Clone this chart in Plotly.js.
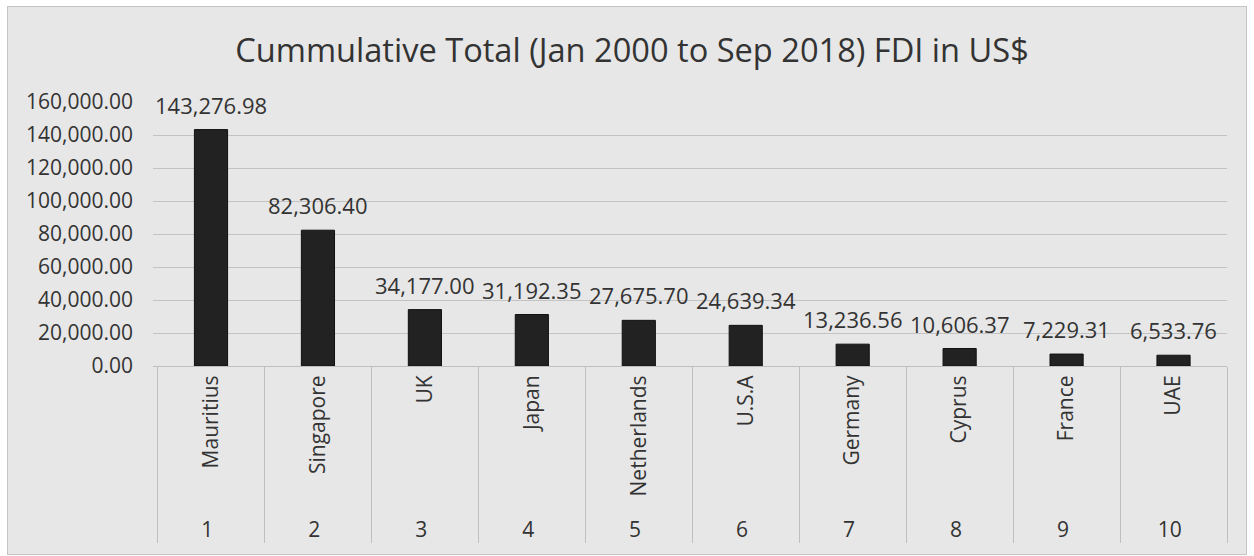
<!DOCTYPE html>
<html>
<head>
<meta charset="utf-8">
<script src="https://cdn.plot.ly/plotly-3.0.1.min.js"></script>
<style>
  html, body { margin: 0; padding: 0; background: #ffffff; }
  #chart { position: absolute; left: 7px; top: 6px; width: 1238px; height: 547px; border: 1px solid #c4c4c4; }
</style>
</head>
<body>
<div id="chart"></div>
<script>
const ranks = ["1", "2", "3", "4", "5", "6", "7", "8", "9", "10"];
const countries = ["Mauritius", "Singapore", "UK", "Japan", "Netherlands", "U.S.A", "Germany", "Cyprus", "France", "UAE"];
const fdi = [143276.98, 82306.40, 34177.00, 31192.35, 27675.70, 24639.34, 13236.56, 10606.37, 7229.31, 6533.76];
const yTicks = [0, 20000, 40000, 60000, 80000, 100000, 120000, 140000, 160000];
const chartTitle = "Cummulative Total (Jan 2000 to Sep 2018) FDI in US$";

const FONT = "'Open Sans', 'Noto Sans', sans-serif";
const TXT = "#333333";

const fmt = v => v.toLocaleString("en-US", {minimumFractionDigits: 2, maximumFractionDigits: 2});

const trace = {
  type: "bar",
  x: [ranks, countries],
  y: fdi,
  marker: { color: "#222222", line: { color: "#111111", width: 1 } },
  hoverinfo: "skip",
  showlegend: false
};

const annotations = fdi.map((v, i) => ({
  x: i, y: v, xref: "x", yref: "y",
  text: fmt(v),
  showarrow: false,
  yanchor: "bottom",
  yshift: 8,
  font: { family: FONT, size: 22, color: TXT }
}));

const layout = {
  width: 1238, height: 547,
  margin: { l: 145, r: 19, t: 95, b: 188, autoexpand: false },
  paper_bgcolor: "#e7e7e7",
  plot_bgcolor: "#e7e7e7",
  bargap: 0.69,
  title: {
    text: chartTitle,
    font: { family: FONT, size: 32.6, color: TXT },
    x: 0.5 + 5 / 1238, xanchor: "center",
    y: 1 - (44 / 547), yanchor: "middle"
  },
  font: { family: FONT, color: TXT },
  xaxis: {
    type: "multicategory",
    automargin: false,
    tickangle: -90,
    tickfont: { family: FONT, size: 21, color: TXT },
    showline: true, linecolor: "#bfbfbf", linewidth: 1,
    showdividers: true, dividercolor: "#bfbfbf", dividerwidth: 1,
    ticks: "", showgrid: false, zeroline: false
  },
  yaxis: {
    automargin: false,
    range: [0, 160000],
    tickvals: yTicks,
    tickformat: ",.2f",
    tickfont: { family: FONT, size: 21, color: TXT },
    showgrid: true, gridcolor: "#c3c3c3", gridwidth: 1,
    zeroline: false, showline: false, ticks: "",
    ticklabelstandoff: 19
  },
  annotations: annotations
};

Plotly.newPlot("chart", [trace], layout, { staticPlot: true, displayModeBar: false });
</script>
</body>
</html>
